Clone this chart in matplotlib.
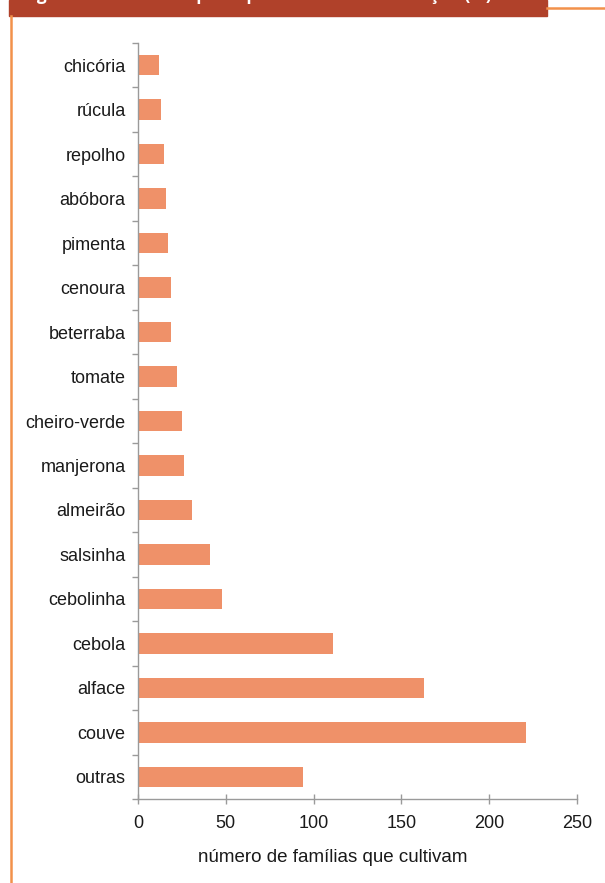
import matplotlib.pyplot as plt
import numpy as np
from matplotlib.lines import Line2D
from matplotlib.patches import Rectangle

##### Data #####
crops = ['chicória', 'rúcula', 'repolho', 'abóbora', 'pimenta', 'cenoura',
         'beterraba', 'tomate', 'cheiro-verde', 'manjerona', 'almeirão',
         'salsinha', 'cebolinha', 'cebola', 'alface', 'couve', 'outras']
families = [12, 13, 15, 16, 17, 19, 19, 22, 25, 26, 31, 41, 48, 111, 163, 221, 94]
xticks = [0, 50, 100, 150, 200, 250]

title = 'Figura 3. Olerícolas: principais culturas em rotação (%)'
xlabel = 'número de famílias que cultivam'

##### Style #####
bar_color = '#EF9169'
banner_color = '#B0412A'
frame_color = '#F2914A'
axis_color = '#9A9A9A'
text_color = '#1A1A1A'
plt.rcParams['font.family'] = ['Liberation Sans', 'DejaVu Sans']

W, H = 605, 883
fig = plt.figure(figsize=(W / 100, H / 100), dpi=100)
fig.patch.set_facecolor('white')

# axes placed in pixel coordinates of the page
x0, x1 = 138, 577
y_top, y_bot = 43, 799
ax = fig.add_axes([x0 / W, 1 - y_bot / H, (x1 - x0) / W, (y_bot - y_top) / H])

pos = np.arange(len(crops))
ax.barh(pos, families, height=0.46, color=bar_color)
ax.set_ylim(len(crops) - 0.5, -0.5)
ax.set_xlim(0, 250)

# category labels centred on bars, tick marks between categories
ax.set_yticks(pos)
ax.set_yticklabels(crops, fontsize=13, color=text_color)
ax.set_yticks(np.arange(-0.5, len(crops)), minor=True)
ax.tick_params(axis='y', which='major', length=0, pad=9)
ax.tick_params(axis='y', which='minor', length=4, color=axis_color, width=1)

ax.set_xticks(xticks)
ax.set_xticklabels([str(t) for t in xticks], fontsize=13, color=text_color)
ax.tick_params(axis='x', direction='inout', length=7, color=axis_color, width=1, pad=8)

for side in ['top', 'right']:
    ax.spines[side].set_visible(False)
for side in ['left', 'bottom']:
    ax.spines[side].set_color(axis_color)
    ax.spines[side].set_linewidth(1)

fig.text(333 / W, 1 - 858 / H, xlabel, fontsize=13.5, color=text_color,
         ha='center', va='center')

# page header: banner, orange rule and left border
fig.patches.append(Rectangle((9 / W, 1 - 16 / H), (547 - 9) / W, 16 / H,
                             transform=fig.transFigure, color=banner_color, zorder=0))
fig.lines.append(Line2D([547 / W, 1], [1 - 7.5 / H] * 2, transform=fig.transFigure,
                        color=frame_color, lw=1.8))
fig.lines.append(Line2D([11 / W] * 2, [0, 1 - 16 / H], transform=fig.transFigure,
                        color=frame_color, lw=1.8))
# heading runs off the top edge of the page
fig.text(22 / W, 1 - 0.5 / H, title, fontsize=12.5, fontweight='bold', color='white',
         family=['Open Sans', 'DejaVu Sans'], ha='left', va='baseline')

plt.savefig('out.png', dpi=100)
plt.close()
